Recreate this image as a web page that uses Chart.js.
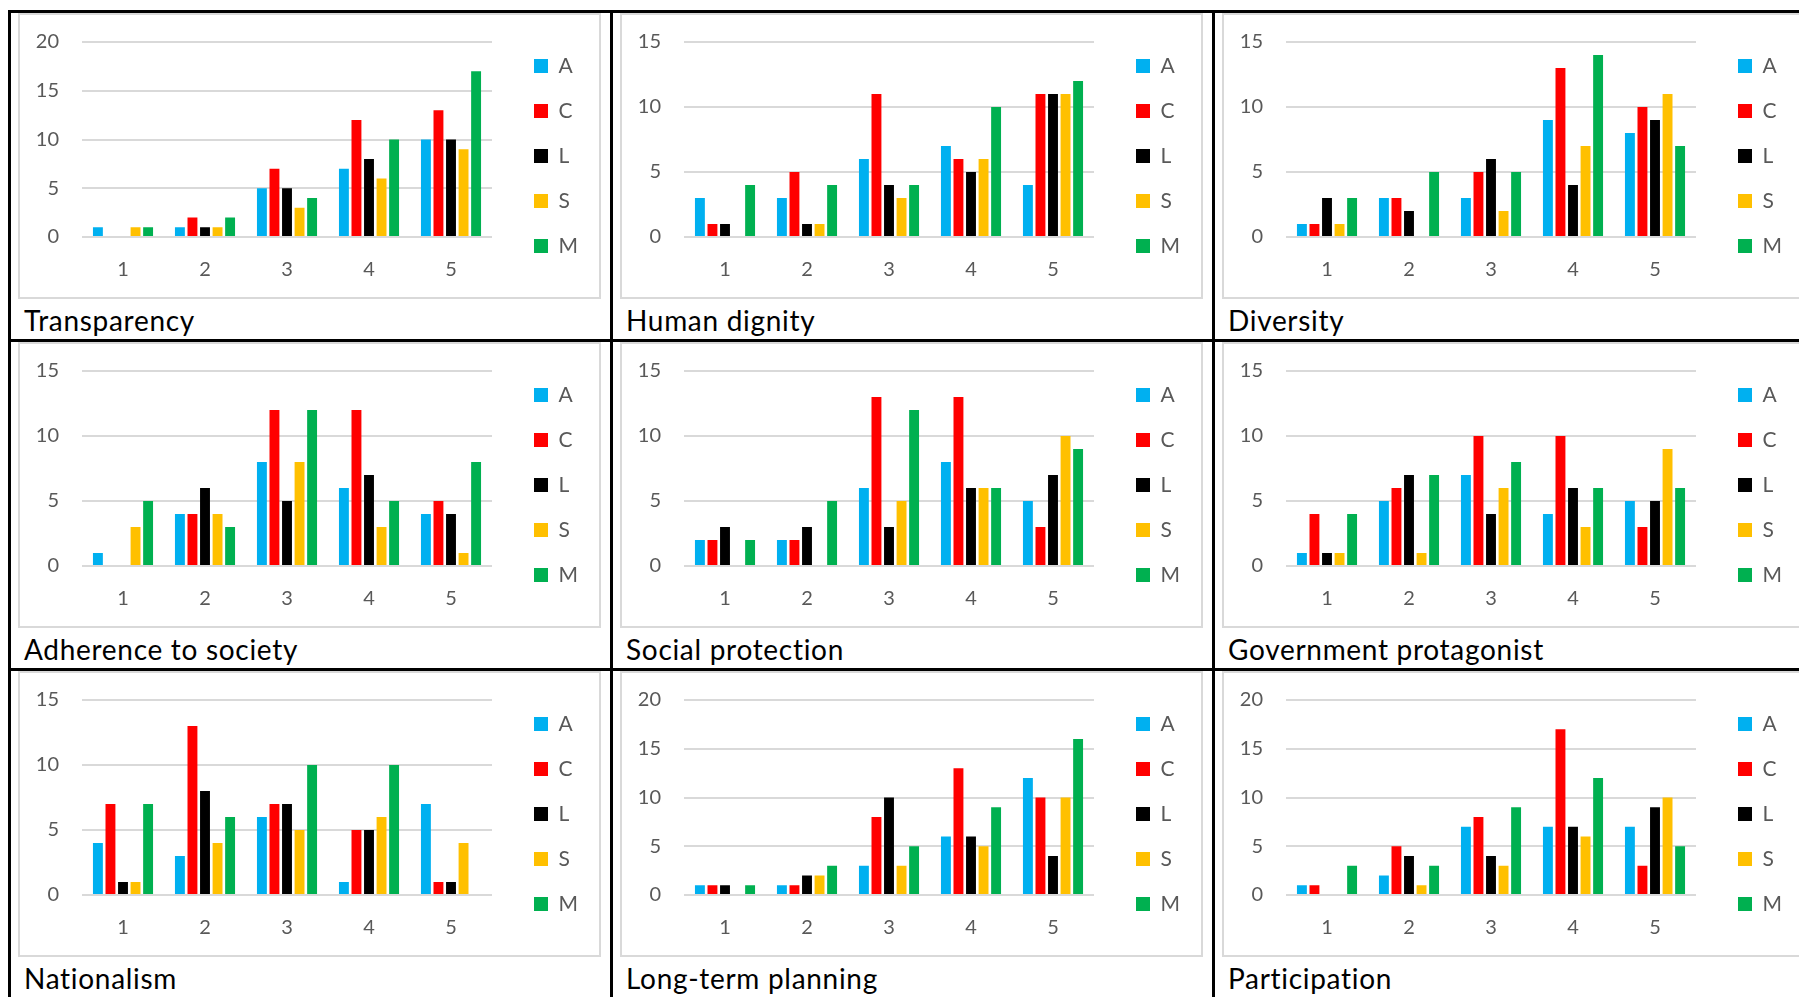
<!DOCTYPE html>
<html>
<head>
<meta charset="utf-8">
<script src="https://cdn.jsdelivr.net/npm/chart.js@4.4.1/dist/chart.umd.min.js"></script>
<style>
  html, body { margin: 0; padding: 0; background: #fff; overflow: hidden; }
  body { width: 1799px; height: 997px; position: relative; font-family: Lato, sans-serif; }
  .hline, .vline { position: absolute; background: #000; }
  .hline { left: 8px; right: 0; height: 3px; }
  .vline { top: 10px; bottom: 0; width: 3px; }
  .box { position: absolute; width: 583px; height: 286px; border: 2px solid #d9d9d9; box-sizing: border-box; }
  .box canvas { display: block; }
  .title { position: absolute; font-size: 28px; line-height: 28px; letter-spacing: 0.7px; color: #000; white-space: nowrap; }
</style>
</head>
<body>
<script>
const categories = ["1", "2", "3", "4", "5"];
const groups = ["A", "C", "L", "S", "M"];
const groupColors = ["#00b0f0", "#ff0000", "#000000", "#ffc000", "#00b050"];

const titles = [
  "Transparency", "Human dignity", "Diversity",
  "Adherence to society", "Social protection", "Government protagonist",
  "Nationalism", "Long-term planning", "Participation"
];
const tickMax = [20, 15, 15, 15, 15, 15, 15, 20, 20];

// one row per group (A, C, L, S, M), one value per category 1..5
const transparency = [
  [1, 1, 5, 7, 10],
  [0, 2, 7, 12, 13],
  [0, 1, 5, 8, 10],
  [1, 1, 3, 6, 9],
  [1, 2, 4, 10, 17]
];
const humanDignity = [
  [3, 3, 6, 7, 4],
  [1, 5, 11, 6, 11],
  [1, 1, 4, 5, 11],
  [0, 1, 3, 6, 11],
  [4, 4, 4, 10, 12]
];
const diversity = [
  [1, 3, 3, 9, 8],
  [1, 3, 5, 13, 10],
  [3, 2, 6, 4, 9],
  [1, 0, 2, 7, 11],
  [3, 5, 5, 14, 7]
];
const adherence = [
  [1, 4, 8, 6, 4],
  [0, 4, 12, 12, 5],
  [0, 6, 5, 7, 4],
  [3, 4, 8, 3, 1],
  [5, 3, 12, 5, 8]
];
const socialProtection = [
  [2, 2, 6, 8, 5],
  [2, 2, 13, 13, 3],
  [3, 3, 3, 6, 7],
  [0, 0, 5, 6, 10],
  [2, 5, 12, 6, 9]
];
const government = [
  [1, 5, 7, 4, 5],
  [4, 6, 10, 10, 3],
  [1, 7, 4, 6, 5],
  [1, 1, 6, 3, 9],
  [4, 7, 8, 6, 6]
];
const nationalism = [
  [4, 3, 6, 1, 7],
  [7, 13, 7, 5, 1],
  [1, 8, 7, 5, 1],
  [1, 4, 5, 6, 4],
  [7, 6, 10, 10, 0]
];
const longTerm = [
  [1, 1, 3, 6, 12],
  [1, 1, 8, 13, 10],
  [1, 2, 10, 6, 4],
  [0, 2, 3, 5, 10],
  [1, 3, 5, 9, 16]
];
const participation = [
  [1, 2, 7, 7, 7],
  [1, 5, 8, 17, 3],
  [0, 4, 4, 7, 9],
  [0, 1, 3, 6, 10],
  [3, 3, 9, 12, 5]
];

const panels = [
  transparency, humanDignity, diversity,
  adherence, socialProtection, government,
  nationalism, longTerm, participation
];

Chart.defaults.font.family = "Lato";

// black table rules
const lineX = [8, 610, 1212];
const lineY = [10, 339, 668];
lineX.forEach(x => {
  const d = document.createElement("div");
  d.className = "vline";
  d.style.left = x + "px";
  document.body.appendChild(d);
});
lineY.forEach(y => {
  const d = document.createElement("div");
  d.className = "hline";
  d.style.top = y + "px";
  document.body.appendChild(d);
});

// hidden axes used only as spacers around the plot area
const spacer = (position, size) => ({
  position,
  grid: { display: false, drawTicks: false },
  ticks: { display: false },
  border: { display: false },
  afterFit: s => {
    if (position === "top") s.height = size; else s.width = size;
  }
});

panels.forEach((values, i) => {
  const col = i % 3, row = Math.floor(i / 3);
  const left = lineX[col], top = lineY[row] + 3;

  const box = document.createElement("div");
  box.className = "box";
  box.style.left = (left + 10) + "px";
  box.style.top = top + "px";
  const canvas = document.createElement("canvas");
  canvas.width = 579;
  canvas.height = 282;
  box.appendChild(canvas);
  document.body.appendChild(box);

  const title = document.createElement("div");
  title.className = "title";
  title.textContent = titles[i];
  title.style.left = (left + 16) + "px";
  title.style.top = (top + 293) + "px";
  document.body.appendChild(title);

  new Chart(canvas, {
    type: "bar",
    data: {
      labels: categories,
      datasets: groups.map((g, k) => ({
        label: g,
        data: values[k],
        backgroundColor: groupColors[k],
        categoryPercentage: 0.765,
        barPercentage: 0.79
      }))
    },
    options: {
      responsive: false,
      animation: false,
      layout: { padding: { top: 0, bottom: 0, left: 0, right: 11 } },
      plugins: {
        legend: {
          position: "right",
          labels: {
            boxWidth: 14,
            boxHeight: 14,
            padding: 24,
            color: "#595959",
            font: { size: 21 }
          }
        },
        tooltip: { enabled: false }
      },
      scales: {
        x: {
          grid: { display: false, drawTicks: false },
          border: { display: false },
          ticks: { color: "#595959", font: { size: 20 }, padding: 21 },
          afterFit: s => { s.height = 60; }
        },
        y: {
          min: 0,
          max: tickMax[i],
          ticks: { stepSize: 5, color: "#595959", font: { size: 20 }, padding: 3 },
          // invisible tick marks push the labels away from the plot
          grid: { color: "#d9d9d9", lineWidth: 2, drawTicks: true, tickLength: 20, tickColor: "rgba(0,0,0,0)" },
          border: { display: false },
          afterFit: s => { s.width = 62; }
        },
        topGap: spacer("top", 27),
        rightGap: spacer("right", 18)
      }
    }
  });
});
</script>
</body>
</html>
